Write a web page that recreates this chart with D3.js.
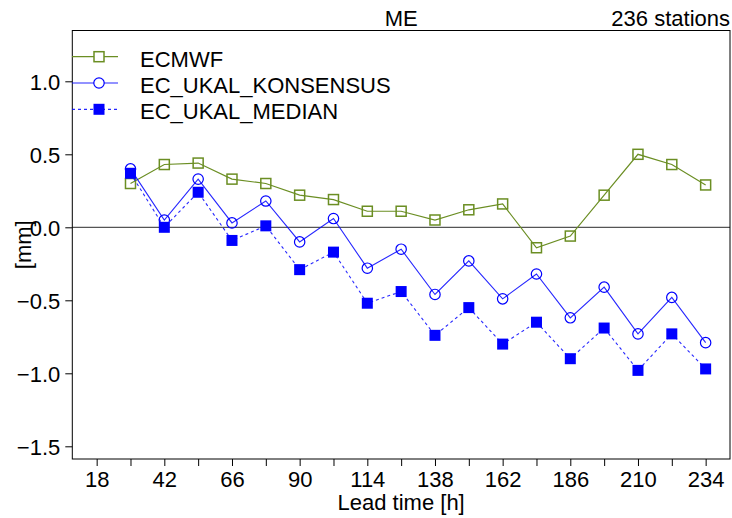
<!DOCTYPE html>
<html><head><meta charset="utf-8">
<script src="https://cdn.jsdelivr.net/npm/d3@7"></script>
<style>body{margin:0;background:#fff}svg{display:block}text{font-family:"Liberation Sans",Arial,sans-serif;fill:#000}</style>
</head><body>
<svg id="c" width="732" height="518"></svg>
<script>
const leadTimes = [30,42,54,66,78,90,102,114,126,138,150,162,174,186,198,210,222,234];
const ecmwf = [0.30,0.43,0.44,0.33,0.30,0.22,0.19,0.11,0.11,0.05,0.12,0.16,-0.14,-0.06,0.22,0.50,0.43,0.29];
const konsensus = [0.40,0.05,0.33,0.03,0.18,-0.10,0.06,-0.28,-0.15,-0.46,-0.23,-0.49,-0.32,-0.62,-0.41,-0.73,-0.48,-0.79];
const median = [0.37,0.00,0.24,-0.09,0.01,-0.29,-0.17,-0.52,-0.44,-0.74,-0.55,-0.80,-0.65,-0.90,-0.69,-0.98,-0.73,-0.97];
const xTicks = [18,30,42,54,66,78,90,102,114,126,138,150,162,174,186,198,210,222,234];
const xLabels = [18,42,66,90,114,138,162,186,210,234];
const yTicks = [-1.5,-1.0,-0.5,0.0,0.5,1.0];
const seriesNames = ["ECMWF","EC_UKAL_KONSENSUS","EC_UKAL_MEDIAN"];

const FS = 22;
const L=72.3, R=730, T=30.5, B=459;
const svg = d3.select("#c");
const x = d3.scaleLinear().domain([9.36,242.64]).range([L,R]);
const y = d3.scaleLinear().domain([-1.587,1.348]).range([B,T]);
const fmt = v => (v<0?"\u2212":"") + Math.abs(v).toFixed(1);

// zero line
svg.append("line").attr("x1",L).attr("x2",R).attr("y1",y(0)).attr("y2",y(0))
  .attr("stroke","#555").attr("stroke-width",1.2);

// box
svg.append("rect").attr("x",L).attr("y",T).attr("width",R-L).attr("height",B-T)
  .attr("fill","none").attr("stroke","#000").attr("stroke-width",1);

// x axis
const xa = svg.append("g").attr("transform",`translate(0,${B})`)
  .call(d3.axisBottom(x).tickValues(xTicks).tickSize(7).tickFormat(d=>xLabels.includes(d)?d:""));
xa.select(".domain").remove();
xa.selectAll("text").attr("font-size",FS).attr("dy",null).attr("y",28).attr("font-family","Liberation Sans, Arial, sans-serif");
xa.selectAll("line").attr("stroke","#000");

// y axis
const ya = svg.append("g").attr("transform",`translate(${L},0)`)
  .call(d3.axisLeft(y).tickValues(yTicks).tickSize(7).tickFormat(fmt));
ya.select(".domain").remove();
ya.selectAll("text").attr("font-size",FS).attr("x",-12).attr("dy","0.36em").attr("font-family","Liberation Sans, Arial, sans-serif");
ya.selectAll("line").attr("stroke","#000");

// labels
svg.append("text").attr("x",(L+R)/2).attr("y",510).attr("text-anchor","middle").attr("font-size",FS).text("Lead time [h]");
svg.append("text").attr("transform",`translate(31,${(T+B)/2}) rotate(-90)`).attr("text-anchor","middle").attr("font-size",FS).text("[mm]");
svg.append("text").attr("x",(L+R)/2).attr("y",26).attr("text-anchor","middle").attr("font-size",FS).text("ME");
svg.append("text").attr("x",R).attr("y",26).attr("text-anchor","end").attr("font-size",FS).text("236 stations");

const green="#6B8E23", blue="#0000FF";
const line = d3.line().x((d,i)=>x(leadTimes[i])).y(d=>y(d));

// ECMWF
svg.append("path").datum(ecmwf).attr("d",line).attr("fill","none").attr("stroke",green).attr("stroke-width",1.2);
svg.selectAll(".sq").data(ecmwf).join("rect").attr("x",(d,i)=>x(leadTimes[i])-5).attr("y",d=>y(d)-5)
  .attr("width",10).attr("height",10).attr("fill","none").attr("stroke",green).attr("stroke-width",1.5);
// KONSENSUS
svg.append("path").datum(konsensus).attr("d",line).attr("fill","none").attr("stroke",blue).attr("stroke-width",1.1).attr("stroke-opacity",0.85);
svg.selectAll(".ci").data(konsensus).join("circle").attr("cx",(d,i)=>x(leadTimes[i])).attr("cy",d=>y(d))
  .attr("r",5.2).attr("fill","none").attr("stroke",blue).attr("stroke-width",1.2);
// MEDIAN
svg.append("path").datum(median).attr("d",line).attr("fill","none").attr("stroke",blue).attr("stroke-width",1.1).attr("stroke-dasharray","3,3").attr("stroke-opacity",0.85);
svg.selectAll(".fs").data(median).join("rect").attr("x",(d,i)=>x(leadTimes[i])-5.5).attr("y",d=>y(d)-5.5)
  .attr("width",11).attr("height",11).attr("fill",blue);

// legend
const lg = [{c:green,dash:null,m:"sq"},{c:blue,dash:null,m:"ci"},{c:blue,dash:"3,3",m:"fs"}];
lg.forEach((s,i)=>{
  const yy = 56.7 + i*26.3, x0=72, x1=118, xm=99;
  svg.append("line").attr("x1",x0).attr("x2",x1).attr("y1",yy).attr("y2",yy).attr("stroke",s.c).attr("stroke-width",1.2).attr("stroke-dasharray",s.dash).attr("stroke-opacity",s.c===blue?0.85:1);
  if(s.m==="sq") svg.append("rect").attr("x",xm-5).attr("y",yy-5).attr("width",10).attr("height",10).attr("fill","#fff").attr("stroke",s.c).attr("stroke-width",1.5);
  if(s.m==="ci") svg.append("circle").attr("cx",xm).attr("cy",yy).attr("r",5.2).attr("fill","#fff").attr("stroke",s.c).attr("stroke-width",1.2);
  if(s.m==="fs") svg.append("rect").attr("x",xm-5.5).attr("y",yy-5.5).attr("width",11).attr("height",11).attr("fill",s.c);
  svg.append("text").attr("x",140).attr("y",yy+10).attr("font-size",FS).text(seriesNames[i]);
});
</script>
</body></html>
